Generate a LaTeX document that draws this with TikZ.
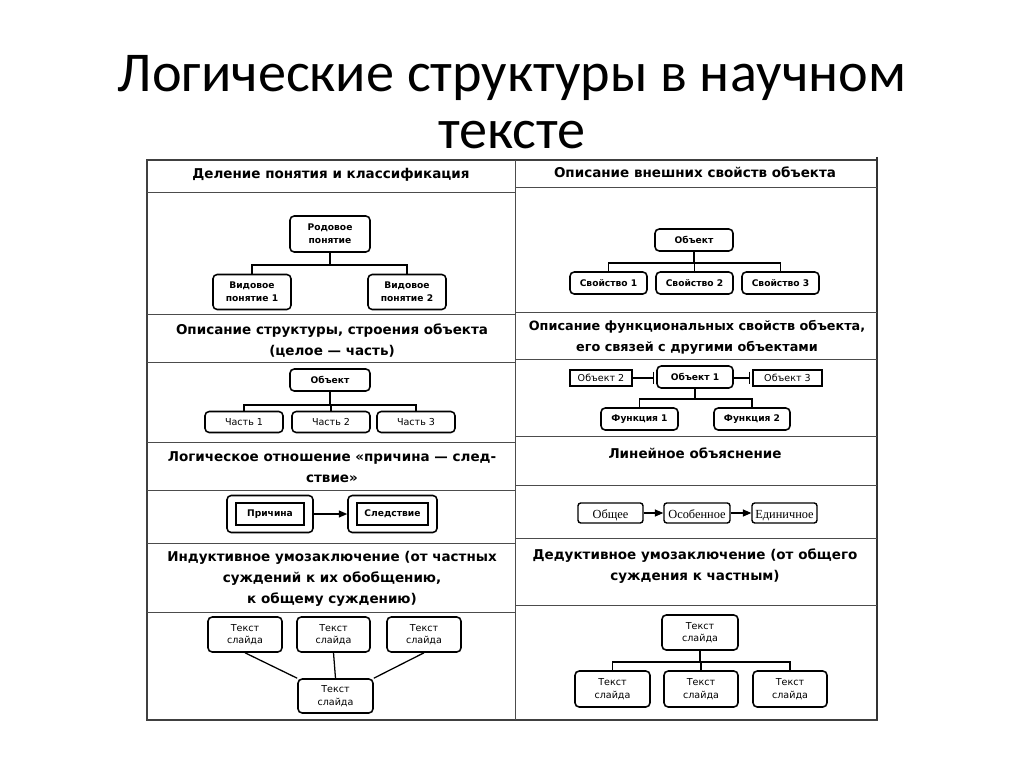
\documentclass[tikz,border=0pt]{standalone}
\usepackage{fontspec}
\setmainfont{DejaVu Sans}
\newfontfamily\titlefont{Carlito}
\newfontfamily\oldserif{Liberation Serif}
\usetikzlibrary{arrows.meta}

\tikzset{
  titletext/.style={font=\fontsize{40}{40}\titlefont, anchor=base, inner sep=0pt},
  hdr/.style={font=\fontsize{9.6}{15}\selectfont\bfseries, align=center},
  rbox/.style={draw, line width=1.1pt, rounded corners=3pt, align=center, inner sep=1pt,
    font=\fontsize{6.8}{9}\selectfont},
  bbox/.style={rbox, font=\fontsize{6.5}{9}\selectfont\bfseries},
  sbox/.style={draw, line width=0.8pt, align=center, inner sep=1pt,
    font=\fontsize{6.8}{9}\selectfont},
  tbox/.style={rbox, rounded corners=2pt, line width=1pt, text height=1.6ex, text depth=0.3ex,
    font=\fontsize{8.8}{10}\oldserif},
  link/.style={line width=0.9pt},
  tablegrid/.style={line width=0.6pt, black!70},
  headarrow/.style={-{Triangle[length=6pt,width=5pt]}},
}

\begin{document}
\begin{tikzpicture}[x=0.025cm, y=-0.025cm]
\useasboundingbox (0,0) rectangle (1024,767);
\fill[white] (0,0) rectangle (1024,767);

% title
\node[titletext] (title1) at (512,92) {Логические структуры в научном};
\node[titletext] (title2) at (512,149) {тексте};

% table frame
\draw[line width=1pt, black!75] (147,160) rectangle (877,720);
\draw[line width=1.6pt, black!80] (877,157) -- (877,720);
\draw[tablegrid] (515,160) -- (515,720);
\foreach \y in {192,314,362,442,490,543,612}
  \draw[tablegrid] (147,\y) -- (515,\y);
\foreach \y in {187,312,359,436,485,538,605}
  \draw[tablegrid] (515,\y) -- (877,\y);

% headers, left column
\node[hdr] (hA) at (331,175) {Деление понятия и классификация};
\node[hdr] (hB) at (332,341) {Описание структуры, строения объекта\\(целое — часть)};
\node[hdr] (hC) at (332,467) {Логическое отношение «причина — след-\\ствие»};
\node[hdr] (hD) at (332,579) {Индуктивное умозаключение (от частных\\суждений к их обобщению,\\к общему суждению)};

% headers, right column
\node[hdr] (hE) at (695,172) {Описание внешних свойств объекта};
\node[hdr, font=\fontsize{9.1}{15}\selectfont\bfseries] (hF) at (697,337.5) {Описание функциональных свойств объекта,\\его связей с другими объектами};
\node[hdr] (hG) at (695,453) {Линейное объяснение};
\node[hdr] (hH) at (695,566) {Дедуктивное умозаключение (от общего\\суждения к частным)};

% division of a concept
\node[bbox, minimum width=2cm, minimum height=0.9cm] (genus) at (330,234) {Родовое\\понятие};
\node[bbox, minimum width=1.95cm, minimum height=0.875cm] (spec1) at (252,292) {Видовое\\понятие 1};
\node[bbox, minimum width=1.95cm, minimum height=0.875cm] (spec2) at (407,292) {Видовое\\понятие 2};
\coordinate (busA) at (330,265);
\draw[link] (genus.south) -- (busA);
\draw[link] (spec1.north) |- (busA) -| (spec2.north);

% whole and parts
\node[bbox, minimum width=2cm, minimum height=0.55cm] (whole) at (330,380) {Объект};
\node[rbox, minimum width=1.95cm, minimum height=0.525cm] (part1) at (244,422) {Часть 1};
\node[rbox, minimum width=1.95cm, minimum height=0.525cm] (part2) at (331,422) {Часть 2};
\node[rbox, minimum width=1.95cm, minimum height=0.525cm] (part3) at (416,422) {Часть 3};
\coordinate (busB) at (330,405);
\draw[link] (whole.south) -- (busB);
\draw[link] (part1.north) |- (busB) -| (part3.north);
\draw[link] (part2.north) -- (part2.north |- busB);

% cause and effect
\node[rbox, minimum width=2.15cm, minimum height=0.925cm] (cause) at (270,514) {};
\node[sbox, font=\fontsize{6.5}{9}\selectfont\bfseries, minimum width=1.7cm, minimum height=0.55cm] (causein) at (cause) {Причина};
\node[rbox, minimum width=2.225cm, minimum height=0.925cm] (effect) at (392.5,514) {};
\node[sbox, font=\fontsize{6.5}{9}\selectfont\bfseries, minimum width=1.775cm, minimum height=0.55cm] (effectin) at (effect) {Следствие};
\draw[link, headarrow] (cause.east) -- (effect.west);

% induction
\node[rbox, minimum width=1.85cm, minimum height=0.875cm] (indA) at (245,634.5) {Текст\\слайда};
\node[rbox, minimum width=1.825cm, minimum height=0.875cm] (indB) at (333.5,634.5) {Текст\\слайда};
\node[rbox, minimum width=1.85cm, minimum height=0.875cm] (indC) at (424,634.5) {Текст\\слайда};
\node[rbox, minimum width=1.875cm, minimum height=0.85cm] (indBase) at (335.5,696) {Текст\\слайда};
\draw[link] (indA.south) -- (indBase.north west);
\draw[link] (indB.south) -- (indBase.north);
\draw[link] (indC.south) -- (indBase.north east);

% external properties
\node[bbox, minimum width=1.95cm, minimum height=0.55cm] (item) at (694,240) {Объект};
\node[bbox, minimum width=1.925cm, minimum height=0.55cm] (prop1) at (608.5,283) {Свойство 1};
\node[bbox, minimum width=1.925cm, minimum height=0.55cm] (prop2) at (694.5,283) {Свойство 2};
\node[bbox, minimum width=1.925cm, minimum height=0.55cm] (prop3) at (780.5,283) {Свойство 3};
\coordinate (busE) at (694,263);
\draw[link] (item.south) -- (busE);
\draw[link] (prop1.north) |- (busE) -| (prop3.north);
\draw[link] (prop2.north) -- (prop2.north |- busE);

% functional properties
\node[bbox, minimum width=1.9cm, minimum height=0.55cm] (obj1) at (695,377) {Объект 1};
\node[sbox, minimum width=1.55cm, minimum height=0.4cm] (obj2) at (601,378) {Объект 2};
\node[sbox, minimum width=1.725cm, minimum height=0.4cm] (obj3) at (787.5,378) {Объект 3};
\draw[link, -{Bar[width=9pt]}, shorten >=1.5pt] (obj2.east) -- (obj2.east -| obj1.west);
\draw[link, -{Bar[width=9pt]}, shorten >=1.5pt] (obj1.east |- obj3.west) -- (obj3.west);
\node[bbox, minimum width=1.925cm, minimum height=0.55cm] (func1) at (639.5,419) {Функция 1};
\node[bbox, minimum width=1.9cm, minimum height=0.55cm] (func2) at (752,419) {Функция 2};
\coordinate (busF) at (695,399);
\draw[link] (obj1.south) -- (busF);
\draw[link] (func1.north) |- (busF) -| (func2.north);

% linear explanation
\node[tbox, minimum width=1.625cm, minimum height=0.5cm] (general) at (610.5,513) {Общее};
\node[tbox, minimum width=1.65cm, minimum height=0.5cm] (special) at (697,513) {Особенное};
\node[tbox, minimum width=1.625cm, minimum height=0.5cm] (single) at (784.5,513) {Единичное};
\draw[link, headarrow] (general.east) -- (special.west);
\draw[link, headarrow] (special.east) -- (single.west);

% deduction
\node[rbox, minimum width=1.9cm, minimum height=0.875cm] (dedTop) at (700,632.5) {Текст\\слайда};
\node[rbox, minimum width=1.875cm, minimum height=0.9cm] (dedA) at (612.5,689) {Текст\\слайда};
\node[rbox, minimum width=1.85cm, minimum height=0.9cm] (dedB) at (701,689) {Текст\\слайда};
\node[rbox, minimum width=1.85cm, minimum height=0.9cm] (dedC) at (790,689) {Текст\\слайда};
\coordinate (busH) at (700,662);
\draw[link] (dedTop.south) -- (busH);
\draw[link] (dedA.north) |- (busH) -| (dedC.north);
\draw[link] (dedB.north) -- (dedB.north |- busH);

\end{tikzpicture}
\end{document}
